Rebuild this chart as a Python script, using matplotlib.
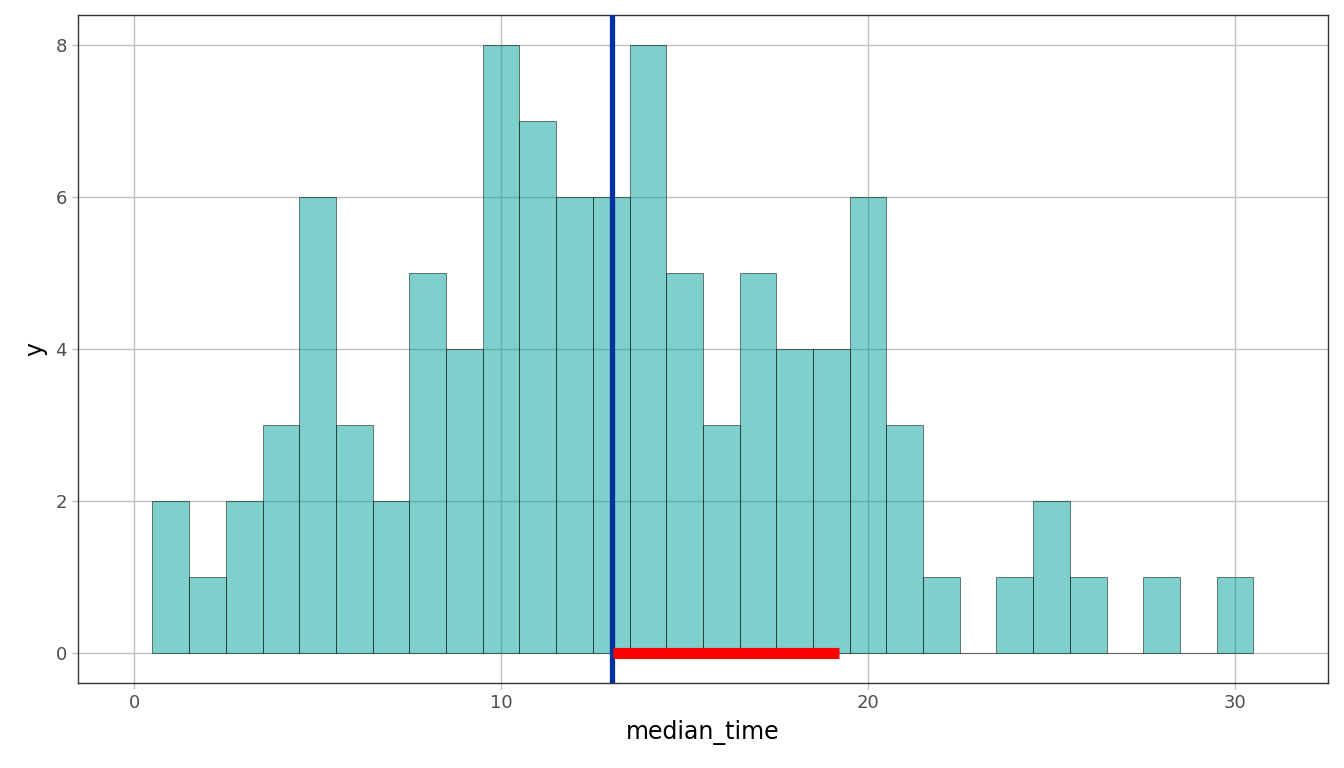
import matplotlib
matplotlib.use('Agg')
import matplotlib.pyplot as plt
import numpy as np

# histogram counts, bins of width 1 centred on integers
bin_centers = np.arange(1, 31)
counts = [2, 1, 2, 3, 6, 3, 2, 5, 4, 8, 7, 6, 6, 8, 5, 3, 5, 4, 4, 6,
          3, 1, 0, 1, 2, 1, 0, 1, 0, 1]
median_line = 13.03
interval = [13.06, 19.22]

fig = plt.figure(figsize=(13.44, 7.68), dpi=100)
ax = fig.add_axes([0.058, 0.111, 0.930, 0.869])

ax.bar(bin_centers, counts, width=1.0, color='#00a09a', alpha=0.5,
       edgecolor='black', linewidth=0.7, zorder=2)
ax.axvline(median_line, color='#0032a0', linewidth=3.8, zorder=4)
ax.plot(interval, [0, 0], color='red', linewidth=8, solid_capstyle='butt', zorder=5)

ax.set_xlim(-1.53, 32.53)
ax.set_ylim(-0.39, 8.39)
ax.set_xticks([0, 10, 20, 30])
ax.set_yticks([0, 2, 4, 6, 8])
ax.grid(True, color='#c0c0c0', linewidth=1.0, zorder=1)
ax.set_axisbelow(True)
for s in ax.spines.values():
    s.set_color('#333333')
    s.set_linewidth(1.0)
ax.tick_params(colors='#c0c0c0', length=4, width=1.0, labelcolor='#4d4d4d',
               labelsize=13, pad=4)
ax.set_xlabel('median_time', fontsize=17, labelpad=6)
ax.set_ylabel('y', fontsize=17, labelpad=6)

fig.savefig('out.png', dpi=100)
